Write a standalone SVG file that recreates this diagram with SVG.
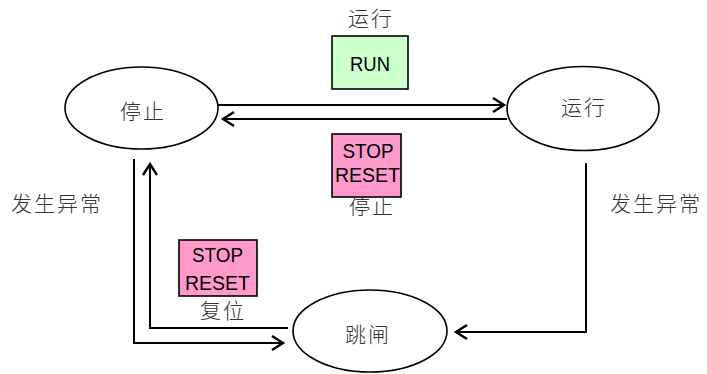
<svg xmlns="http://www.w3.org/2000/svg" width="707" height="374" viewBox="0 0 707 374">
<style>
.node ellipse{fill:#fff;stroke:#000;stroke-width:1.6}
.cjk{font-family:"Noto Sans CJK SC","Noto Sans",sans-serif;font-weight:300;font-size:21px;fill:#333;text-anchor:middle;letter-spacing:2px}
.btn{font-family:"Liberation Sans",Arial,sans-serif;font-size:21px;fill:#000;text-anchor:middle}
.box{stroke:#000;stroke-width:1.6}
.conn path{fill:none;stroke:#000;stroke-width:2}
</style>
<defs>
<marker id="arr" markerUnits="userSpaceOnUse" markerWidth="20" markerHeight="20" viewBox="-12 -10 14 20" refX="0" refY="0" orient="auto">
<path d="M-11,-7 L0,0 L-11,7" fill="none" stroke="#000" stroke-width="2.4"/>
</marker>
</defs>
<rect width="707" height="374" fill="#fff"/>
<g id="connectors" class="conn">
<path d="M218,105 H504" marker-end="url(#arr)"/>
<path d="M507,119 H223" marker-end="url(#arr)"/>
<path d="M134,159 V343 H283" marker-end="url(#arr)"/>
<path d="M288,328 H150 V164" marker-end="url(#arr)"/>
<path d="M586,163 V332 H456" marker-end="url(#arr)"/>
</g>
<g id="node-stop" class="node">
<ellipse cx="141.5" cy="108" rx="76.5" ry="41"/>
<text class="cjk" x="143" y="119">停止</text>
</g>
<g id="node-run" class="node">
<ellipse cx="583" cy="108.5" rx="76" ry="42"/>
<text class="cjk" x="584" y="115">运行</text>
</g>
<g id="node-trip" class="node">
<ellipse cx="370" cy="331" rx="77" ry="41"/>
<text class="cjk" x="368" y="342">跳闸</text>
</g>
<g id="label-run">
<text class="cjk" x="371" y="26">运行</text>
<rect class="box" x="332" y="36" width="76" height="53" fill="#ccffcc"/>
<text class="btn" x="370" y="71" textLength="40" lengthAdjust="spacingAndGlyphs">RUN</text>
</g>
<g id="label-stop-mid">
<rect class="box" x="332" y="134" width="69" height="63" fill="#ff99cc"/>
<text class="btn" x="368" y="158" textLength="51" lengthAdjust="spacingAndGlyphs">STOP</text>
<text class="btn" x="367.5" y="182" textLength="65" lengthAdjust="spacingAndGlyphs">RESET</text>
<text class="cjk" x="372" y="214">停止</text>
</g>
<g id="label-stop-low">
<rect class="box" x="179" y="240" width="78" height="56" fill="#ff99cc"/>
<text class="btn" x="217.5" y="262" textLength="51" lengthAdjust="spacingAndGlyphs">STOP</text>
<text class="btn" x="217.5" y="290" textLength="65" lengthAdjust="spacingAndGlyphs">RESET</text>
<text class="cjk" x="223" y="318">复位</text>
</g>
<g id="label-fault-left">
<text class="cjk" x="57" y="211">发生异常</text>
</g>
<g id="label-fault-right">
<text class="cjk" x="656" y="211">发生异常</text>
</g>
</svg>
